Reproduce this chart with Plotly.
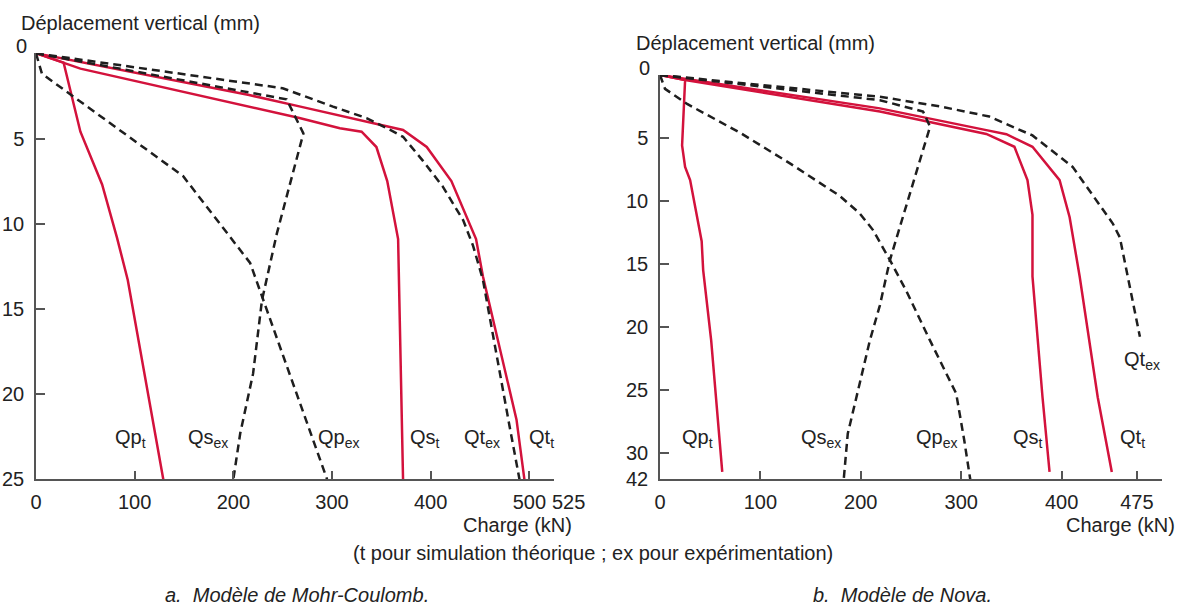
import plotly.graph_objects as go

# ---------------- Data (load in kN, vertical displacement in mm) ----------------
# a. Mohr-Coulomb model
mc_qpt_load = [0, 28, 45, 67, 82, 93, 129]
mc_qpt_disp = [0, 0.55, 4.6, 7.7, 10.8, 13.3, 25]

mc_qst_load = [0, 28, 45, 267, 308, 330, 345, 356, 367, 372]
mc_qst_disp = [0, 0.55, 0.9, 3.8, 4.4, 4.6, 5.5, 7.5, 10.9, 25]

mc_qtt_load = [0, 216, 268, 372, 396, 421, 446, 453, 487, 495]
mc_qtt_disp = [0, 2.45, 3.13, 4.5, 5.5, 7.5, 10.9, 13.1, 21.5, 25]

mc_qsex_load = [0, 254, 271, 244, 229, 220, 207, 200]
mc_qsex_disp = [0, 2.7, 4.7, 10.6, 14.5, 18.8, 22.3, 25]

mc_qpex_load = [0, 6, 149, 217, 295]
mc_qpex_disp = [0, 1.2, 7.2, 12.3, 25]

mc_qtex_load = [0, 250, 301, 335, 359, 372, 392, 412, 433, 443, 453, 470, 480, 490]
mc_qtex_disp = [0, 2.05, 3.13, 3.8, 4.5, 4.9, 6.3, 7.8, 9.8, 11.3, 13.3, 18.8, 21.9, 25]

# b. Nova model
nv_qpt_load = [0, 25, 22, 25, 30, 41.5, 43, 51, 62]
nv_qpt_disp = [0, 0.4, 5.6, 7.3, 8.35, 13.2, 15.5, 21.1, 38.7]

nv_qst_load = [0, 25, 219, 325, 353, 366, 371, 371, 381, 388]
nv_qst_disp = [0, 0.4, 2.9, 4.68, 5.7, 8.35, 11.1, 16, 25.6, 38.7]

nv_qtt_load = [0, 219, 325, 345, 371, 398, 408, 418, 436, 450]
nv_qtt_disp = [0, 2.65, 4.38, 4.7, 5.7, 8.35, 11.3, 16, 25.6, 38.7]

nv_qsex_load = [0, 219, 262, 269, 229, 219, 209, 197, 187, 183]
nv_qsex_disp = [0, 2.0, 2.9, 4.1, 14.7, 18.3, 21.1, 25.1, 28.5, 42]

nv_qpex_load = [0, 5, 27, 80, 129, 179, 199, 212, 229, 245, 269, 295, 303, 309]
nv_qpex_disp = [0, 1.1, 2.3, 4.6, 7.0, 9.6, 11.0, 12.3, 14.7, 17.1, 21.1, 25.3, 29, 42]

nv_qtex_load = [0, 219, 279, 328, 371, 411, 451, 458, 478]
nv_qtex_disp = [0, 1.73, 2.5, 3.3, 4.8, 7.3, 11.8, 12.9, 20.8]

mc_x_ticks = [0, 100, 200, 300, 400, 500, 525]
mc_y_ticks = [0, 5, 10, 15, 20, 25]
nv_x_ticks = [0, 100, 200, 300, 400, 475]
nv_y_ticks = [0, 5, 10, 15, 20, 25, 30, 42]

# ---------------- Helpers ----------------
W, H = 1183, 608
BREAK_AT = 30.0
BREAK_FACTOR = (26.6 / 12.57) / 12.0   # compressed scale of the axis break 30 -> 42


def nova_y(v):
    return v if v <= BREAK_AT else BREAK_AT + (v - BREAK_AT) * BREAK_FACTOR


def px(x):
    return x / W


def py(y):
    return 1 - y / H


RED = '#d3123c'
BLK = '#1e1e1e'
FONT = 'Liberation Sans'
FS = 20

fig = go.Figure()


def add(xs, ys, xa, ya, solid):
    fig.add_trace(go.Scatter(
        x=xs, y=ys, mode='lines', xaxis=xa, yaxis=ya, showlegend=False,
        hoverinfo='skip',
        line=dict(color=RED if solid else BLK, width=2.5,
                  dash='solid' if solid else '8px,5px')))


add(mc_qpt_load, mc_qpt_disp, 'x', 'y', True)
add(mc_qst_load, mc_qst_disp, 'x', 'y', True)
add(mc_qtt_load, mc_qtt_disp, 'x', 'y', True)
add(mc_qsex_load, mc_qsex_disp, 'x', 'y', False)
add(mc_qpex_load, mc_qpex_disp, 'x', 'y', False)
add(mc_qtex_load, mc_qtex_disp, 'x', 'y', False)

for ld, dp, solid in [(nv_qpt_load, nv_qpt_disp, True), (nv_qst_load, nv_qst_disp, True),
                      (nv_qtt_load, nv_qtt_disp, True), (nv_qsex_load, nv_qsex_disp, False),
                      (nv_qpex_load, nv_qpex_disp, False), (nv_qtex_load, nv_qtex_disp, False)]:
    add(ld, [nova_y(v) for v in dp], 'x2', 'y2', solid)

axis_common = dict(showgrid=False, zeroline=False, showline=True, linecolor='#555',
                   linewidth=1.5, ticks='inside', ticklen=9, tickwidth=1.5,
                   tickcolor='#555', automargin=False, tickangle=0,
                   tickfont=dict(family=FONT, size=FS, color='#222'))

fig.update_layout(
    width=W, height=H, margin=dict(l=0, r=0, t=0, b=0, autoexpand=False),
    paper_bgcolor='white', plot_bgcolor='white', showlegend=False,
    xaxis=dict(domain=[px(36), px(554)], anchor='y', range=[0, 525],
               tickvals=mc_x_ticks,
               ticktext=[str(v) if v != 525 else '' for v in mc_x_ticks],
               ticklabelstandoff=4, **axis_common),
    yaxis=dict(domain=[py(479.3), py(53.3)], anchor='x', range=[25, 0],
               tickvals=mc_y_ticks,
               ticktext=[str(v) if v != 0 else '' for v in mc_y_ticks],
               ticklabelstandoff=6, **axis_common),
    xaxis2=dict(domain=[px(660), px(1162)], anchor='y2', range=[0, 500],
                tickvals=nv_x_ticks, ticklabelstandoff=4, **axis_common),
    yaxis2=dict(domain=[py(479.3), py(75)], anchor='x2', range=[nova_y(42), 0],
                tickvals=[nova_y(v) for v in nv_y_ticks],
                ticktext=[str(v) if v != 0 else '' for v in nv_y_ticks],
                ticklabelstandoff=6, **axis_common),
)

annotations = []


def note(text, x, y, xanchor='left', yanchor='middle', size=FS, italic=False):
    annotations.append(dict(
        text=('<i>' + text + '</i>') if italic else text,
        x=px(x), y=py(y), xref='paper', yref='paper', xanchor=xanchor, yanchor=yanchor,
        showarrow=False, font=dict(family=FONT, size=size, color='#222')))


# tick labels placed off their ticks, as in the original
note('525', 550, 501.5)
note('0', 29, 46, xanchor='right')
note('0', 652, 68, xanchor='right')

# axis titles
note('Déplacement vertical (mm)', 19, 23)
note('Déplacement vertical (mm)', 634, 43)
note('Charge (kN)', 574, 525, xanchor='right')
note('Charge (kN)', 1177, 525, xanchor='right')

# curve labels - left
note('Qp<sub>t</sub>', 113, 438)
note('Qs<sub>ex</sub>', 186, 438)
note('Qp<sub>ex</sub>', 316, 438)
note('Qs<sub>t</sub>', 408, 438)
note('Qt<sub>ex</sub>', 462, 438)
note('Qt<sub>t</sub>', 527, 438)

# curve labels - right
note('Qp<sub>t</sub>', 680, 438)
note('Qs<sub>ex</sub>', 799, 438)
note('Qp<sub>ex</sub>', 914, 438)
note('Qs<sub>t</sub>', 1011, 438)
note('Qt<sub>t</sub>', 1118, 438)
note('Qt<sub>ex</sub>', 1122, 360)

# footnotes
note('(t pour simulation théorique ; ex pour expérimentation)', 593, 553, xanchor='center')
note('a.&nbsp; Modèle de Mohr-Coulomb.', 297, 608, xanchor='center', yanchor='bottom', italic=True)
note('b.&nbsp; Modèle de Nova.', 902, 608, xanchor='center', yanchor='bottom', italic=True)

fig.update_layout(annotations=annotations)

fig.write_html('out.html')
